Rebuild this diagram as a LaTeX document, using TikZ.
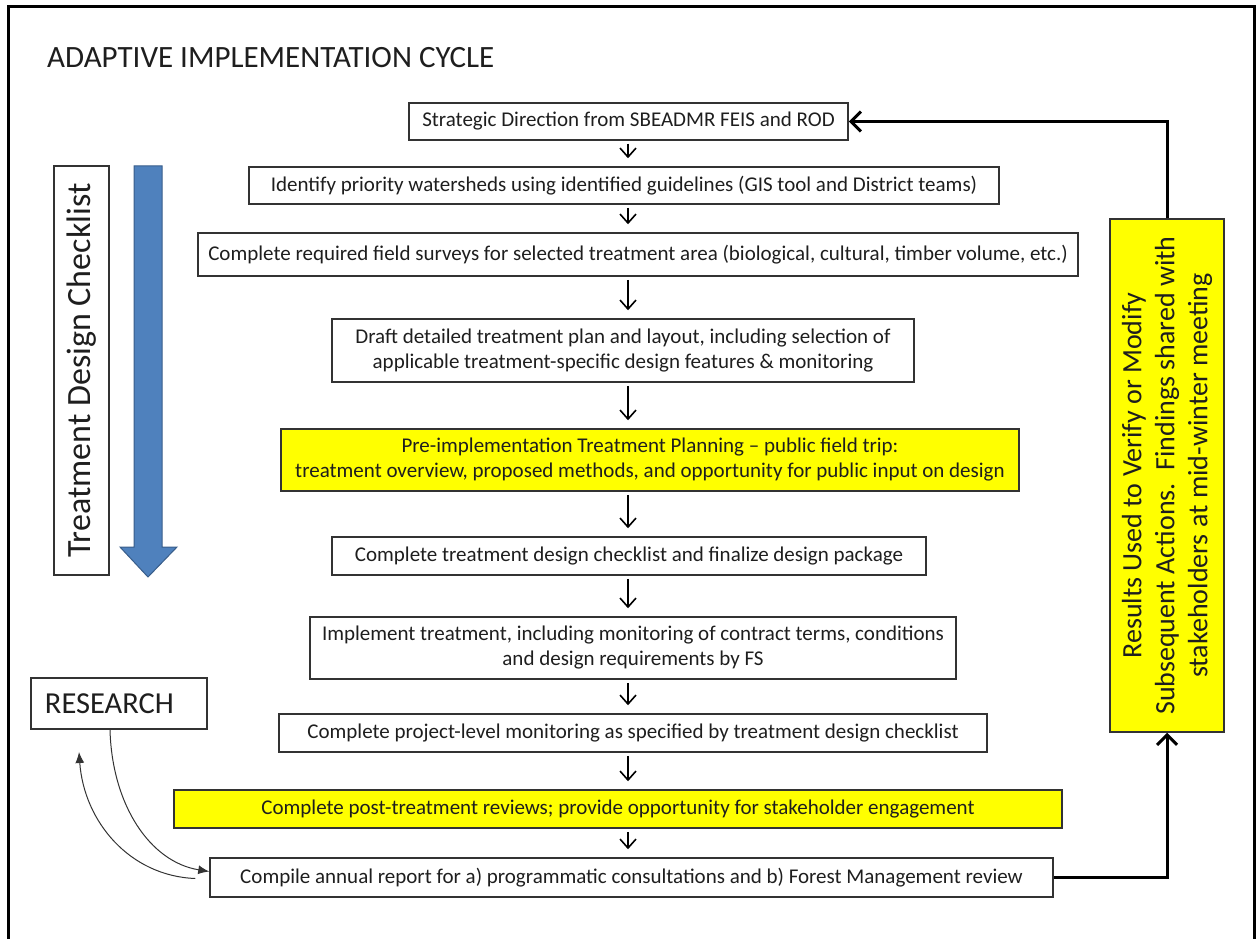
\documentclass[tikz,border=0pt]{standalone}
\usepackage{fontspec}
\setmainfont{Carlito}
\usetikzlibrary{calc, arrows.meta}
\definecolor{boxyellow}{RGB}{255,255,0}
\definecolor{chkblue}{RGB}{79,129,189}
\definecolor{chkedge}{RGB}{56,93,138}
\definecolor{ink}{RGB}{30,30,30}
\tikzset{
  stepbox/.style={draw=black!80, line width=1.5pt, text=ink, font=\fontsize{21}{25}\selectfont, align=center, inner sep=0pt},
  hilite/.style={stepbox, fill=boxyellow},
  flow/.style={-{Straight Barb[length=9pt,width=16pt]}, line width=1.6pt, shorten <=3pt, shorten >=8pt},
  back/.style={-{Straight Barb[length=10pt,width=20pt]}, line width=3pt},
  curvy/.style={-{Latex[length=11pt,width=9pt]}, line width=1pt, black!80},
}

\begin{document}
\begin{tikzpicture}[x=1pt,y=-1pt]
\useasboundingbox (0,0) rectangle (1259,939);
\draw[line width=3pt] (8,945) -- (8,7) -- (1254,7) -- (1254,945);

\node[anchor=base west, inner sep=0pt, text=ink, font=\fontsize{31}{37}\selectfont] (title) at (47,68) {ADAPTIVE IMPLEMENTATION CYCLE};

% main column
\node[stepbox, minimum width=439pt, minimum height=37pt] (b1) at (628.5,121.5) {Strategic Direction from SBEADMR FEIS and ROD};
\node[stepbox, minimum width=750pt, minimum height=37pt] (b2) at (624,185.5) {Identify priority watersheds using identified guidelines (GIS tool and District teams)};
\node[stepbox, minimum width=880pt, minimum height=43pt] (b3) at (638,254.5) {Complete required field surveys for selected treatment area (biological, cultural, timber volume, etc.)};
\node[stepbox, minimum width=582pt, minimum height=63pt] (b4) at (623,350.5) {Draft detailed treatment plan and layout, including selection of\\applicable treatment-specific design features \& monitoring};
\node[hilite, minimum width=738pt, minimum height=62pt] (b5) at (650,460) {Pre-implementation Treatment Planning -- public field trip:\\treatment overview, proposed methods, and opportunity for public input on design};
\node[stepbox, minimum width=594pt, minimum height=38pt] (b6) at (629,556) {Complete treatment design checklist and finalize design package};
\node[stepbox, minimum width=646pt, minimum height=62pt] (b7) at (633,648) {Implement treatment, including monitoring of contract terms, conditions\\and design requirements by FS};
\node[stepbox, minimum width=708pt, minimum height=38pt] (b8) at (633,733) {Complete project-level monitoring as specified by treatment design checklist};
\node[hilite, minimum width=888pt, minimum height=38pt] (b9) at (618,809) {Complete post-treatment reviews; provide opportunity for stakeholder engagement};
\node[stepbox, minimum width=843pt, minimum height=39pt] (b10) at (631.5,877.5) {Compile annual report for a) programmatic consultations and b) Forest Management review};

\coordinate (spine) at (628,0);
\foreach \a/\b in {b1/b2,b2/b3,b3/b4,b4/b5,b5/b6,b6/b7,b7/b8,b8/b9,b9/b10}
  \draw[flow] (\a.south -| spine) -- (\b.north -| spine);

% side panels
\node[stepbox, rotate=90, minimum width=409pt, minimum height=55pt, font=\fontsize{34}{40}\selectfont] (checklist) at (81.5,370.5) {Treatment Design Checklist};
\draw[fill=chkblue, draw=chkedge, line width=1pt] (134,166) -- (162,166) -- (162,547) -- (177,547) -- (148,577) -- (120,547) -- (134,547) -- cycle;

\node[hilite, rotate=90, minimum width=513pt, minimum height=114pt, font=\fontsize{28}{33}\selectfont] (results) at (1167,475.5) {Results Used to Verify or Modify\\Subsequent Actions.\ \ Findings shared with\\stakeholders at mid-winter meeting};
\draw[back] (b10.east) -| (results.west);
\draw[back] (results.east) |- (b1.east);

\node[stepbox, minimum width=176pt, minimum height=51pt, text width=148pt, align=left, font=\fontsize{30.5}{36}\selectfont] (research) at (119,703.5) {RESEARCH};
\coordinate (rtip) at (79,752);
\draw[curvy] ([xshift=-9pt]research.south) .. controls (112,805) and (150,862) .. ([yshift=6pt]b10.west);
\draw[curvy] ([xshift=-14pt,yshift=-1pt]b10.west) .. controls (130,876) and (84,822) .. (rtip);
\end{tikzpicture}
\end{document}
